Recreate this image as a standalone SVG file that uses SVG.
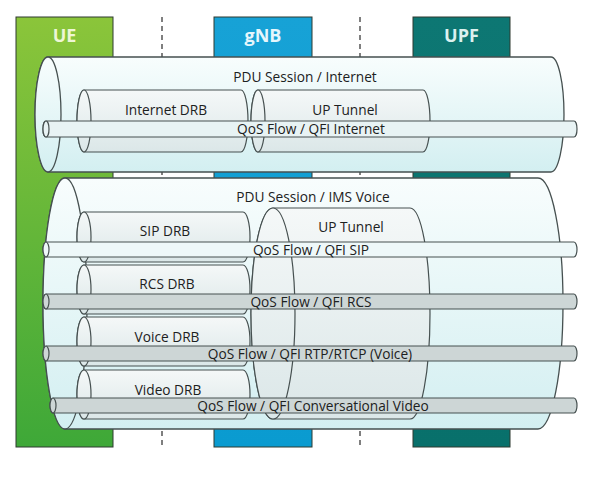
<svg xmlns="http://www.w3.org/2000/svg" width="592" height="477" viewBox="0 0 592 477">
<defs>
<linearGradient id="gUE" x1="0" y1="0" x2="0" y2="1"><stop offset="0" stop-color="#8bc53a"/><stop offset="1" stop-color="#3ea838"/></linearGradient>
<linearGradient id="gNB" x1="0" y1="0" x2="0" y2="1"><stop offset="0" stop-color="#17a2d6"/><stop offset="1" stop-color="#0a9bd0"/></linearGradient>
<linearGradient id="gUPF" x1="0" y1="0" x2="0" y2="1"><stop offset="0" stop-color="#0d7773"/><stop offset="1" stop-color="#08706b"/></linearGradient>
<linearGradient id="gBody" x1="0" y1="0" x2="0" y2="1"><stop offset="0" stop-color="#f8fdfd"/><stop offset="1" stop-color="#d3eff1"/></linearGradient>
<linearGradient id="gInner" x1="0" y1="0" x2="0" y2="1"><stop offset="0" stop-color="#f5f8f8"/><stop offset="1" stop-color="#dbe7e8"/></linearGradient>
<style>
.box{stroke:#2f3a30;stroke-width:1}
.hdr{font-family:"Open Sans","Noto Sans",sans-serif;font-weight:bold;font-size:18px;text-anchor:middle}
.cyl{fill:url(#gBody);stroke:#465050;stroke-width:1.3}
.inn{fill:url(#gInner);stroke:#465050;stroke-width:1.2}
.pipeL{fill:#e8f3f4;stroke:#465050;stroke-width:1.2}
.pipeG{fill:#cdd6d6;stroke:#465050;stroke-width:1.2}
.t{font-family:"Open Sans","Noto Sans",sans-serif;font-size:13.7px;fill:#1c2121;text-anchor:middle}
.dash{stroke:#555;stroke-width:1.5;stroke-dasharray:5,4;fill:none}
</style>
</defs>
<rect width="592" height="477" fill="#ffffff"/>

<g id="UE"><rect class="box" x="16" y="17" width="97" height="430" fill="url(#gUE)"/><text class="hdr" x="64.5" y="42" fill="#eef6d6">UE</text></g>
<g id="gNB_node"><rect class="box" x="214" y="17" width="98" height="430" fill="url(#gNB)"/><text class="hdr" x="263" y="42" fill="#e6f6fc">gNB</text></g>
<g id="UPF"><rect class="box" x="413" y="17" width="97" height="430" fill="url(#gUPF)"/><text class="hdr" x="461.5" y="42" fill="#dcf1ef">UPF</text></g>

<g id="connectors">
<line class="dash" x1="162" y1="17" x2="162" y2="447"/>
<line class="dash" x1="360" y1="17" x2="360" y2="447"/>
</g>

<g id="pdu_internet">
<path class="cyl" d="M48,57 H551 A13,57.5 0 0 1 551,172 H48 A13,57.5 0 0 1 48,57 Z"/>
<ellipse class="cyl" cx="48" cy="114.5" rx="13" ry="57.5"/>
<text class="t" x="305" y="82">PDU Session / Internet</text>
</g>
<g id="internet_drb">
<path class="inn" d="M84,90 H241 A7,31 0 0 1 241,152 H84 A7,31 0 0 1 84,90 Z"/>
<ellipse class="inn" cx="84" cy="121" rx="7" ry="31"/>
<text class="t" x="166" y="115">Internet DRB</text>
</g>
<g id="up_tunnel_internet">
<path class="inn" d="M258,90 H423 A7,31 0 0 1 423,152 H258 A7,31 0 0 1 258,90 Z"/>
<ellipse class="inn" cx="258" cy="121" rx="7" ry="31"/>
<text class="t" x="345" y="115">UP Tunnel</text>
</g>
<g id="qos_internet">
<path class="pipeL" d="M46,121 H574 A3,8 0 0 1 574,137 H46 A3,8 0 0 1 46,121 Z"/>
<ellipse class="pipeL" cx="46" cy="129" rx="3" ry="8"/>
<text class="t" x="311" y="134">QoS Flow / QFI Internet</text>
</g>

<g id="pdu_ims">
<path class="cyl" d="M65,178 H538 A25,125.5 0 0 1 538,429 H65 A22,125.5 0 0 1 65,178 Z"/>
<ellipse class="cyl" cx="65" cy="303.5" rx="22" ry="125.5"/>
<text class="t" x="313" y="202">PDU Session / IMS Voice</text>
</g>
<g id="up_tunnel_ims">
<path class="inn" d="M273,208 H410 A20,105.5 0 0 1 410,419 H273 A22,105.5 0 0 1 273,208 Z"/>
<ellipse class="inn" cx="273" cy="313.5" rx="22" ry="105.5"/>
<text class="t" x="351" y="232">UP Tunnel</text>
</g>
<g id="sip_drb">
<path class="inn" d="M84,212 H243 A7,25 0 0 1 243,262 H84 A7,25 0 0 1 84,212 Z"/>
<ellipse class="inn" cx="84" cy="237" rx="7" ry="25"/>
<text class="t" x="165" y="236">SIP DRB</text>
</g>
<g id="rcs_drb">
<path class="inn" d="M84,265 H243 A7,24.5 0 0 1 243,314 H84 A7,24.5 0 0 1 84,265 Z"/>
<ellipse class="inn" cx="84" cy="289.5" rx="7" ry="24.5"/>
<text class="t" x="167" y="289">RCS DRB</text>
</g>
<g id="voice_drb">
<path class="inn" d="M84,317 H243 A7,24.5 0 0 1 243,366 H84 A7,24.5 0 0 1 84,317 Z"/>
<ellipse class="inn" cx="84" cy="341.5" rx="7" ry="24.5"/>
<text class="t" x="167" y="342">Voice DRB</text>
</g>
<g id="video_drb">
<path class="inn" d="M84,370 H243 A7,24.5 0 0 1 243,419 H84 A7,24.5 0 0 1 84,370 Z"/>
<ellipse class="inn" cx="84" cy="394.5" rx="7" ry="24.5"/>
<text class="t" x="168" y="395">Video DRB</text>
</g>
<g id="qos_sip">
<path class="pipeL" d="M46,242 H574 A3,7.5 0 0 1 574,257 H46 A3,7.5 0 0 1 46,242 Z" style="fill:#eef8f9"/>
<ellipse class="pipeL" cx="46" cy="249.5" rx="3" ry="7.5" style="fill:#eef8f9"/>
<text class="t" x="311" y="254.5">QoS Flow / QFI SIP</text>
</g>
<g id="qos_rcs">
<path class="pipeG" d="M46,294 H574 A3,7.5 0 0 1 574,309 H46 A3,7.5 0 0 1 46,294 Z"/>
<ellipse class="pipeG" cx="46" cy="301.5" rx="3" ry="7.5"/>
<text class="t" x="311" y="306.5">QoS Flow / QFI RCS</text>
</g>
<g id="qos_voice">
<path class="pipeG" d="M46,346 H574 A3,7.5 0 0 1 574,361 H46 A3,7.5 0 0 1 46,346 Z"/>
<ellipse class="pipeG" cx="46" cy="353.5" rx="3" ry="7.5"/>
<text class="t" x="310" y="358.5">QoS Flow / QFI RTP/RTCP (Voice)</text>
</g>
<g id="qos_video">
<path class="pipeG" d="M53,398 H574 A3,7.5 0 0 1 574,413 H53 A3,7.5 0 0 1 53,398 Z"/>
<ellipse class="pipeG" cx="53" cy="405.5" rx="3" ry="7.5"/>
<text class="t" x="313" y="410.5">QoS Flow / QFI Conversational Video</text>
</g>
</svg>
